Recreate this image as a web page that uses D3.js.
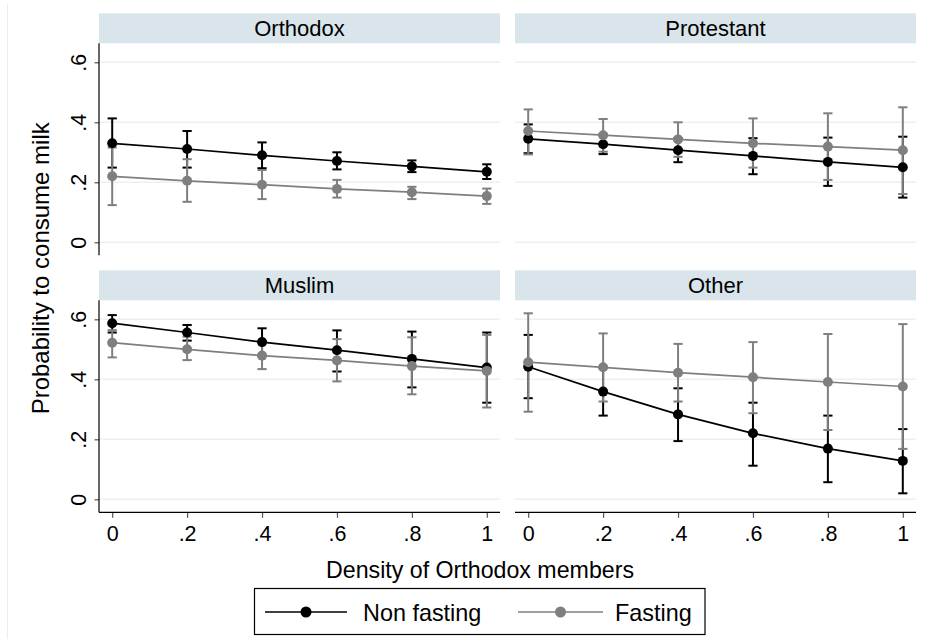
<!DOCTYPE html>
<html>
<head>
<meta charset="utf-8">
<script src="https://cdn.jsdelivr.net/npm/d3@7"></script>
<style>
  html, body { margin: 0; padding: 0; background: #fff; }
  svg { display: block; font-family: "Liberation Sans", Arial, sans-serif; }
</style>
</head>
<body>
<svg id="chart" width="937" height="639"></svg>
<script>
// Predicted probability to consume milk by density of Orthodox members, by religion
const densities = [0, 0.2, 0.4, 0.6, 0.8, 1];
const religions = ["Orthodox", "Protestant", "Muslim", "Other"];
const xTickLabels = ["0", ".2", ".4", ".6", ".8", "1"];
const yTicks = [0, 0.2, 0.4, 0.6];
const yTickLabels = ["0", ".2", ".4", ".6"];
const seriesNames = ["Non fasting", "Fasting"];

// Rows follow `religions`, columns follow `densities`
const nonFastingEst = [
  [0.330, 0.311, 0.290, 0.271, 0.253, 0.235],
  [0.345, 0.327, 0.307, 0.288, 0.268, 0.250],
  [0.587, 0.556, 0.524, 0.497, 0.468, 0.439],
  [0.442, 0.359, 0.283, 0.220, 0.169, 0.128]
];
const nonFastingLo = [
  [0.249, 0.249, 0.247, 0.243, 0.234, 0.211],
  [0.297, 0.294, 0.267, 0.227, 0.188, 0.149],
  [0.556, 0.529, 0.478, 0.426, 0.373, 0.322],
  [0.337, 0.279, 0.194, 0.112, 0.057, 0.020]
];
const nonFastingHi = [
  [0.413, 0.371, 0.333, 0.300, 0.273, 0.260],
  [0.393, 0.360, 0.347, 0.347, 0.349, 0.352],
  [0.614, 0.581, 0.570, 0.563, 0.559, 0.556],
  [0.548, 0.439, 0.370, 0.322, 0.279, 0.234]
];
const fastingEst = [
  [0.220, 0.205, 0.192, 0.178, 0.167, 0.154],
  [0.371, 0.357, 0.343, 0.330, 0.319, 0.307],
  [0.522, 0.500, 0.479, 0.463, 0.444, 0.428],
  [0.457, 0.440, 0.422, 0.407, 0.391, 0.376]
];
const fastingLo = [
  [0.124, 0.135, 0.144, 0.149, 0.144, 0.128],
  [0.293, 0.302, 0.285, 0.249, 0.208, 0.161],
  [0.473, 0.464, 0.434, 0.393, 0.350, 0.306],
  [0.292, 0.326, 0.326, 0.287, 0.231, 0.168]
];
const fastingHi = [
  [0.316, 0.277, 0.241, 0.208, 0.185, 0.179],
  [0.443, 0.411, 0.400, 0.413, 0.430, 0.450],
  [0.564, 0.542, 0.524, 0.534, 0.540, 0.548],
  [0.620, 0.553, 0.518, 0.524, 0.551, 0.584]
];

const svg = d3.select("#chart");
const W = 937, H = 639;

const COLORS = { nf: "#000000", f: "#7f7f7f" };
const STRIP = "#d9e5ea";
const GRID = "#e9f1f3";
const AXIS = "#000000";
const TICK = "#555555";

// Facet geometry
const colX = [99, 515];
const panelW = 401;
const rowTop = [13.3, 270.3];
const stripH = 30;
const plotH = 211;
const xPad = 13.2;
const markerR = 5;

// faint outer border of the graph region
svg.append("line")
  .attr("x1", 7.5).attr("x2", 7.5).attr("y1", 4).attr("y2", H)
  .attr("stroke", "#e6eef1").attr("stroke-width", 1.2);

const seriesDefs = [
  { key: "nf", est: nonFastingEst, lo: nonFastingLo, hi: nonFastingHi, color: COLORS.nf },
  { key: "f", est: fastingEst, lo: fastingLo, hi: fastingHi, color: COLORS.f }
];

religions.forEach((rel, i) => {
  const col = i % 2, row = Math.floor(i / 2);
  const left = colX[col];
  const top = rowTop[row];
  const plotTop = top + stripH;
  const plotBottom = plotTop + plotH;

  const x = d3.scaleLinear().domain([0, 1]).range([left + xPad, left + panelW - xPad]);
  const y = d3.scaleLinear().domain([0, 0.6]).range([plotBottom - 12, plotBottom - 192]);

  const g = svg.append("g");

  // strip
  g.append("rect")
    .attr("x", left).attr("y", top).attr("width", panelW).attr("height", stripH)
    .attr("fill", STRIP);
  g.append("text")
    .attr("x", left + panelW / 2).attr("y", top + stripH / 2 + 7.8)
    .attr("text-anchor", "middle").attr("font-size", 22).attr("fill", "#000")
    .text(rel);

  // gridlines
  g.selectAll("line.grid").data(yTicks).join("line")
    .attr("class", "grid")
    .attr("x1", left).attr("x2", left + panelW)
    .attr("y1", d => y(d)).attr("y2", d => y(d))
    .attr("stroke", GRID).attr("stroke-width", 1.6);

  // y axis on the left column
  if (col === 0) {
    const yAxis = d3.axisLeft(y).tickValues(yTicks)
      .tickFormat((d, k) => yTickLabels[k]).tickSize(4.5).tickPadding(0);
    const ya = g.append("g").attr("transform", `translate(${left},0)`).call(yAxis);
    ya.select(".domain").remove();
    ya.selectAll(".tick line").attr("stroke", TICK).attr("stroke-width", 1.2);
    ya.selectAll(".tick text").remove();
    ya.selectAll(".tick").append("text")
      .attr("transform", "translate(-21,0) rotate(-90)")
      .attr("text-anchor", "middle").attr("dy", "0.35em")
      .attr("font-size", 21.5).attr("fill", "#000")
      .text((d, k) => yTickLabels[k]);
    g.append("line")
      .attr("x1", left).attr("x2", left).attr("y1", plotTop).attr("y2", plotBottom + 1)
      .attr("stroke", AXIS).attr("stroke-width", 1.2);
  }

  // x axis on the bottom row
  if (row === 1) {
    const xAxis = d3.axisBottom(x).tickValues(densities)
      .tickFormat((d, k) => xTickLabels[k]).tickSize(5.5).tickPadding(8);
    const xa = g.append("g").attr("transform", `translate(0,${plotBottom + 1})`).call(xAxis);
    xa.select(".domain").remove();
    xa.selectAll(".tick line").attr("stroke", TICK).attr("stroke-width", 1.2);
    xa.selectAll(".tick text").attr("font-size", 21.5).attr("fill", "#000")
      .attr("font-family", "Liberation Sans, Arial, sans-serif");
    g.append("line")
      .attr("x1", left).attr("x2", left + panelW)
      .attr("y1", plotBottom + 1).attr("y2", plotBottom + 1)
      .attr("stroke", AXIS).attr("stroke-width", 1.2);
  }

  // confidence intervals first, then connected estimates
  const capW = 4.6;
  seriesDefs.forEach(s => {
    const pts = densities.map((d, k) => ({ d, lo: s.lo[i][k], hi: s.hi[i][k] }));
    const ci = g.append("g").attr("stroke", s.color).attr("stroke-width", 2);
    ci.selectAll("line.v").data(pts).join("line").attr("class", "v")
      .attr("x1", p => x(p.d)).attr("x2", p => x(p.d))
      .attr("y1", p => y(p.lo)).attr("y2", p => y(p.hi));
    ci.selectAll("line.lo").data(pts).join("line").attr("class", "lo")
      .attr("x1", p => x(p.d) - capW).attr("x2", p => x(p.d) + capW)
      .attr("y1", p => y(p.lo)).attr("y2", p => y(p.lo));
    ci.selectAll("line.hi").data(pts).join("line").attr("class", "hi")
      .attr("x1", p => x(p.d) - capW).attr("x2", p => x(p.d) + capW)
      .attr("y1", p => y(p.hi)).attr("y2", p => y(p.hi));
  });

  seriesDefs.forEach(s => {
    const pts = densities.map((d, k) => ({ d, v: s.est[i][k] }));
    const line = d3.line().x(p => x(p.d)).y(p => y(p.v));
    g.append("path").datum(pts)
      .attr("d", line).attr("fill", "none")
      .attr("stroke", s.color).attr("stroke-width", 1.7);
    g.selectAll(`circle.${s.key}`).data(pts).join("circle")
      .attr("class", s.key)
      .attr("cx", p => x(p.d)).attr("cy", p => y(p.v)).attr("r", markerR)
      .attr("fill", s.color);
  });
});

// y axis title
svg.append("text")
  .attr("transform", `translate(41,${(rowTop[0] + rowTop[1] + stripH + plotH) / 2 + 6}) rotate(-90)`)
  .attr("text-anchor", "middle").attr("dy", "0.35em")
  .attr("font-size", 24).attr("fill", "#000")
  .text("Probability to consume milk");

// x axis title
svg.append("text")
  .attr("x", 480).attr("y", 578)
  .attr("text-anchor", "middle").attr("font-size", 23.2).attr("fill", "#000")
  .text("Density of Orthodox members");

// legend
const leg = svg.append("g");
leg.append("rect")
  .attr("x", 254.5).attr("y", 588.5).attr("width", 450.5).attr("height", 46)
  .attr("fill", "#fff").attr("stroke", "#000").attr("stroke-width", 1.2);
const legendItems = [
  { name: seriesNames[0], color: COLORS.nf, x1: 265, x2: 347, tx: 363 },
  { name: seriesNames[1], color: COLORS.f, x1: 518, x2: 603, tx: 615 }
];
legendItems.forEach(it => {
  leg.append("line")
    .attr("x1", it.x1).attr("x2", it.x2).attr("y1", 612).attr("y2", 612)
    .attr("stroke", it.color).attr("stroke-width", 1.7);
  leg.append("circle")
    .attr("cx", (it.x1 + it.x2) / 2).attr("cy", 612).attr("r", markerR + 0.5)
    .attr("fill", it.color);
  leg.append("text")
    .attr("x", it.tx).attr("y", 620.5)
    .attr("font-size", 23.4).attr("fill", "#000")
    .text(it.name);
});
</script>
</body>
</html>
